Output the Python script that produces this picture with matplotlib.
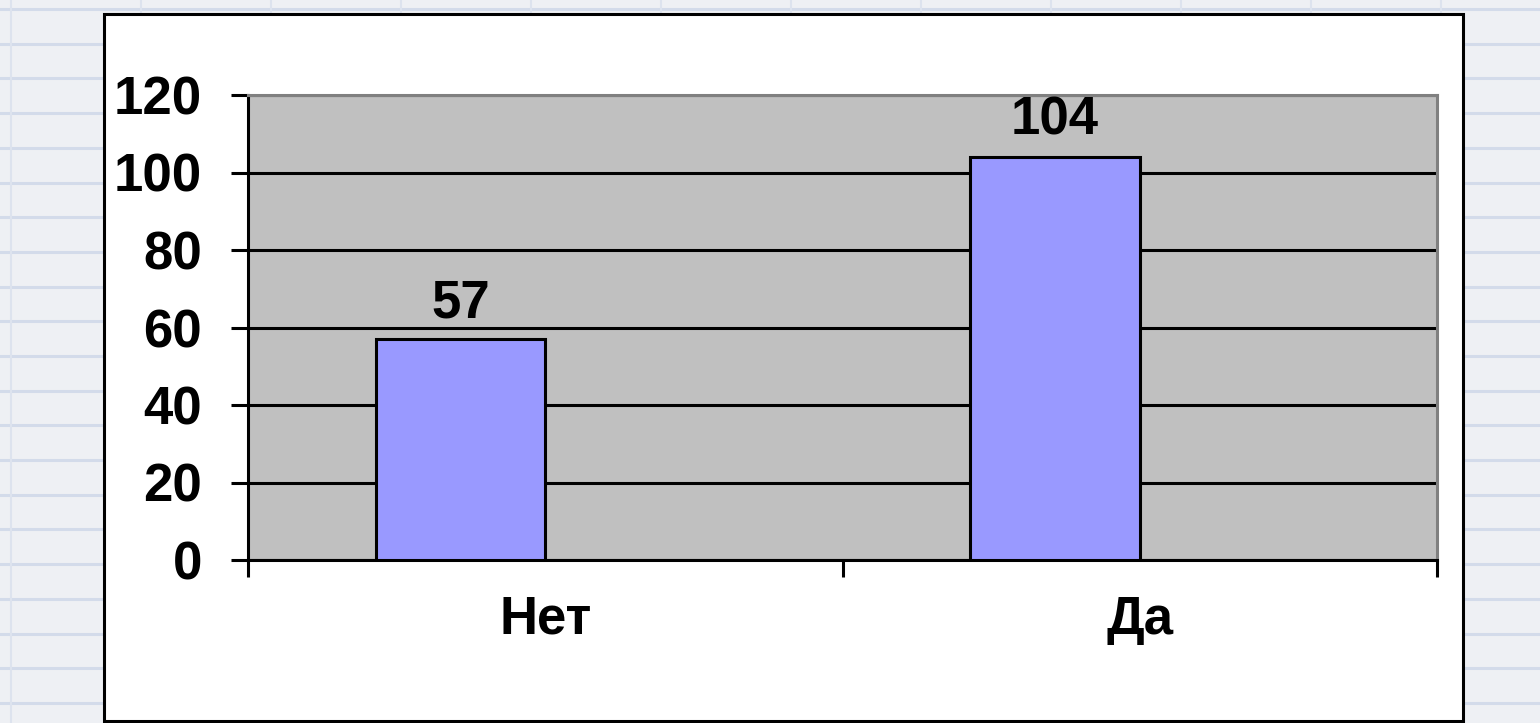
import matplotlib.pyplot as plt
from matplotlib.lines import Line2D
from matplotlib.patches import Rectangle

categories = ['Нет', 'Да']
values = [57, 104]
yticks = [0, 20, 40, 60, 80, 100, 120]

plt.rcParams['font.family'] = ['Liberation Sans', 'DejaVu Sans']
plt.rcParams['font.weight'] = 'bold'
fs = 38

W, H = 1540, 723
fig = plt.figure(figsize=(W / 100, H / 100), dpi=100)
fig.patch.set_facecolor('#eef0f4')

# notebook paper background
y = 9.0
while y < H:
    fig.add_artist(Line2D([0, 1], [1 - y / H, 1 - y / H], color='#d3dbea', lw=2.2, zorder=-3))
    y += 34.7
for x in range(11, W, 130):
    fig.add_artist(Line2D([x / W, x / W], [0, 1], color='#dde3ee', lw=1.5, zorder=-3))

# white chart frame
fig.add_artist(Rectangle((104 / W, 1 - 721 / H), (1463 - 104) / W, (721 - 14) / H,
                         transform=fig.transFigure, facecolor='white',
                         edgecolor='black', lw=2.2, zorder=-2))

ax = fig.add_axes([248 / W, 1 - 560 / H, (1437 - 248) / W, (560 - 95) / H])
ax.set_facecolor('#c0c0c0')

xs = list(range(len(categories)))
w = 0.285
ax.bar([x - w / 2 for x in xs], values, width=w, color='#9999ff',
       edgecolor='black', linewidth=2.2, zorder=3)
for x, v in zip(xs, values):
    ax.annotate(str(v), (x - w / 2, v), xytext=(0, 8), textcoords='offset points',
                ha='center', va='bottom', fontsize=fs, fontweight='bold')

ax.set_xlim(-0.5, 1.5)
ax.set_ylim(0, 120)
ax.set_yticks(yticks)
ax.set_yticklabels([str(t) for t in yticks])
ax.yaxis.grid(True, color='black', lw=2.2, zorder=1)
ax.set_axisbelow(True)

ax.set_xticks([-0.5, 0.5, 1.5])
ax.set_xticklabels(['', '', ''])
ax.set_xticks(xs, minor=True)
ax.set_xticklabels(categories, minor=True)
ax.tick_params(axis='x', which='minor', length=0, pad=25, labelsize=fs)
ax.tick_params(axis='x', which='major', length=12, width=2.2, direction='out')
ax.tick_params(axis='y', length=12, width=2.2, direction='out', pad=21, labelsize=fs)

for s in ['left', 'bottom']:
    ax.spines[s].set_color('black')
    ax.spines[s].set_linewidth(2.2)
for s in ['top', 'right']:
    ax.spines[s].set_color('#808080')
    ax.spines[s].set_linewidth(2.2)

fig.savefig('out.png', dpi=100, facecolor=fig.get_facecolor())
